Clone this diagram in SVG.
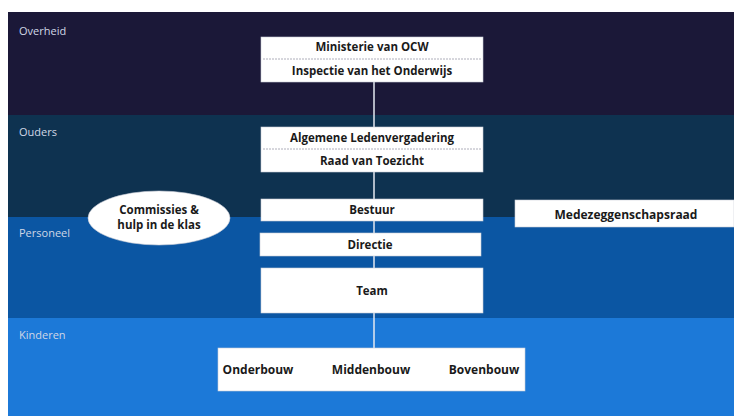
<svg xmlns="http://www.w3.org/2000/svg" width="734" height="416" viewBox="0 0 734 416">
<style>
.band-label{font-family:"Open Sans","Liberation Sans",sans-serif;font-size:11px;fill:#d0d7e6}
.box{fill:#ffffff;stroke:#c9cdd6;stroke-width:0.6}
.t{font-family:"Open Sans","Liberation Sans",sans-serif;font-size:11.5px;font-weight:bold;fill:#1a1a1a;text-anchor:middle}
.tl{font-size:12px}
.div{stroke:#9a9aa8;stroke-width:0.8;stroke-dasharray:2 1}
.conn{stroke:#e4e8f0;stroke-width:1.5;fill:none}
</style>
<rect x="0" y="0" width="734" height="416" fill="#ffffff"/>
<g id="bands">
<rect x="8" y="12" width="726" height="103" fill="#1b1838"/>
<rect x="8" y="115" width="726" height="102" fill="#0e3250"/>
<rect x="8" y="217" width="726" height="101" fill="#0b56a3"/>
<rect x="8" y="318" width="726" height="98" fill="#1c79d8"/>
<text class="band-label" x="19" y="35">Overheid</text>
<text class="band-label" x="19" y="136">Ouders</text>
<text class="band-label" x="19" y="237">Personeel</text>
<text class="band-label" x="19" y="339">Kinderen</text>
</g>
<g id="connectors">
<line class="conn" x1="374" y1="82" x2="374" y2="348"/>
</g>
<g id="overheid">
<rect class="box" x="261" y="37" width="222" height="45"/>
<line class="div" x1="263" y1="59" x2="481" y2="59"/>
<text class="t" x="372" y="51">Ministerie van OCW</text>
<text class="t" x="372" y="75">Inspectie van het Onderwijs</text>
</g>
<g id="ouders">
<rect class="box" x="261" y="127" width="222" height="45"/>
<line class="div" x1="263" y1="149" x2="481" y2="149"/>
<text class="t" x="372" y="142">Algemene Ledenvergadering</text>
<text class="t" x="372" y="165">Raad van Toezicht</text>
</g>
<g id="bestuur">
<rect class="box" x="261" y="199" width="222" height="22"/>
<text class="t" x="372" y="214">Bestuur</text>
</g>
<g id="directie">
<rect class="box" x="260" y="233" width="221" height="23"/>
<text class="t" x="370" y="249">Directie</text>
</g>
<g id="team">
<rect class="box" x="261" y="268" width="222" height="45"/>
<text class="t" x="372" y="295">Team</text>
</g>
<g id="kinderen">
<rect class="box" x="218" y="348" width="307" height="43"/>
<text class="t tl" x="258" y="374">Onderbouw</text>
<text class="t tl" x="371" y="374">Middenbouw</text>
<text class="t tl" x="484" y="374">Bovenbouw</text>
</g>
<g id="medezeggenschapsraad">
<rect class="box" x="515" y="200" width="219" height="27"/>
<text class="t tl" x="626" y="219">Medezeggenschapsraad</text>
</g>
<g id="commissies">
<ellipse cx="159" cy="218" rx="71" ry="27" fill="#ffffff" stroke="#c9cdd6" stroke-width="0.6"/>
<text class="t" x="159" y="214">Commissies &amp;</text>
<text class="t" x="159" y="229">hulp in de klas</text>
</g>
</svg>
